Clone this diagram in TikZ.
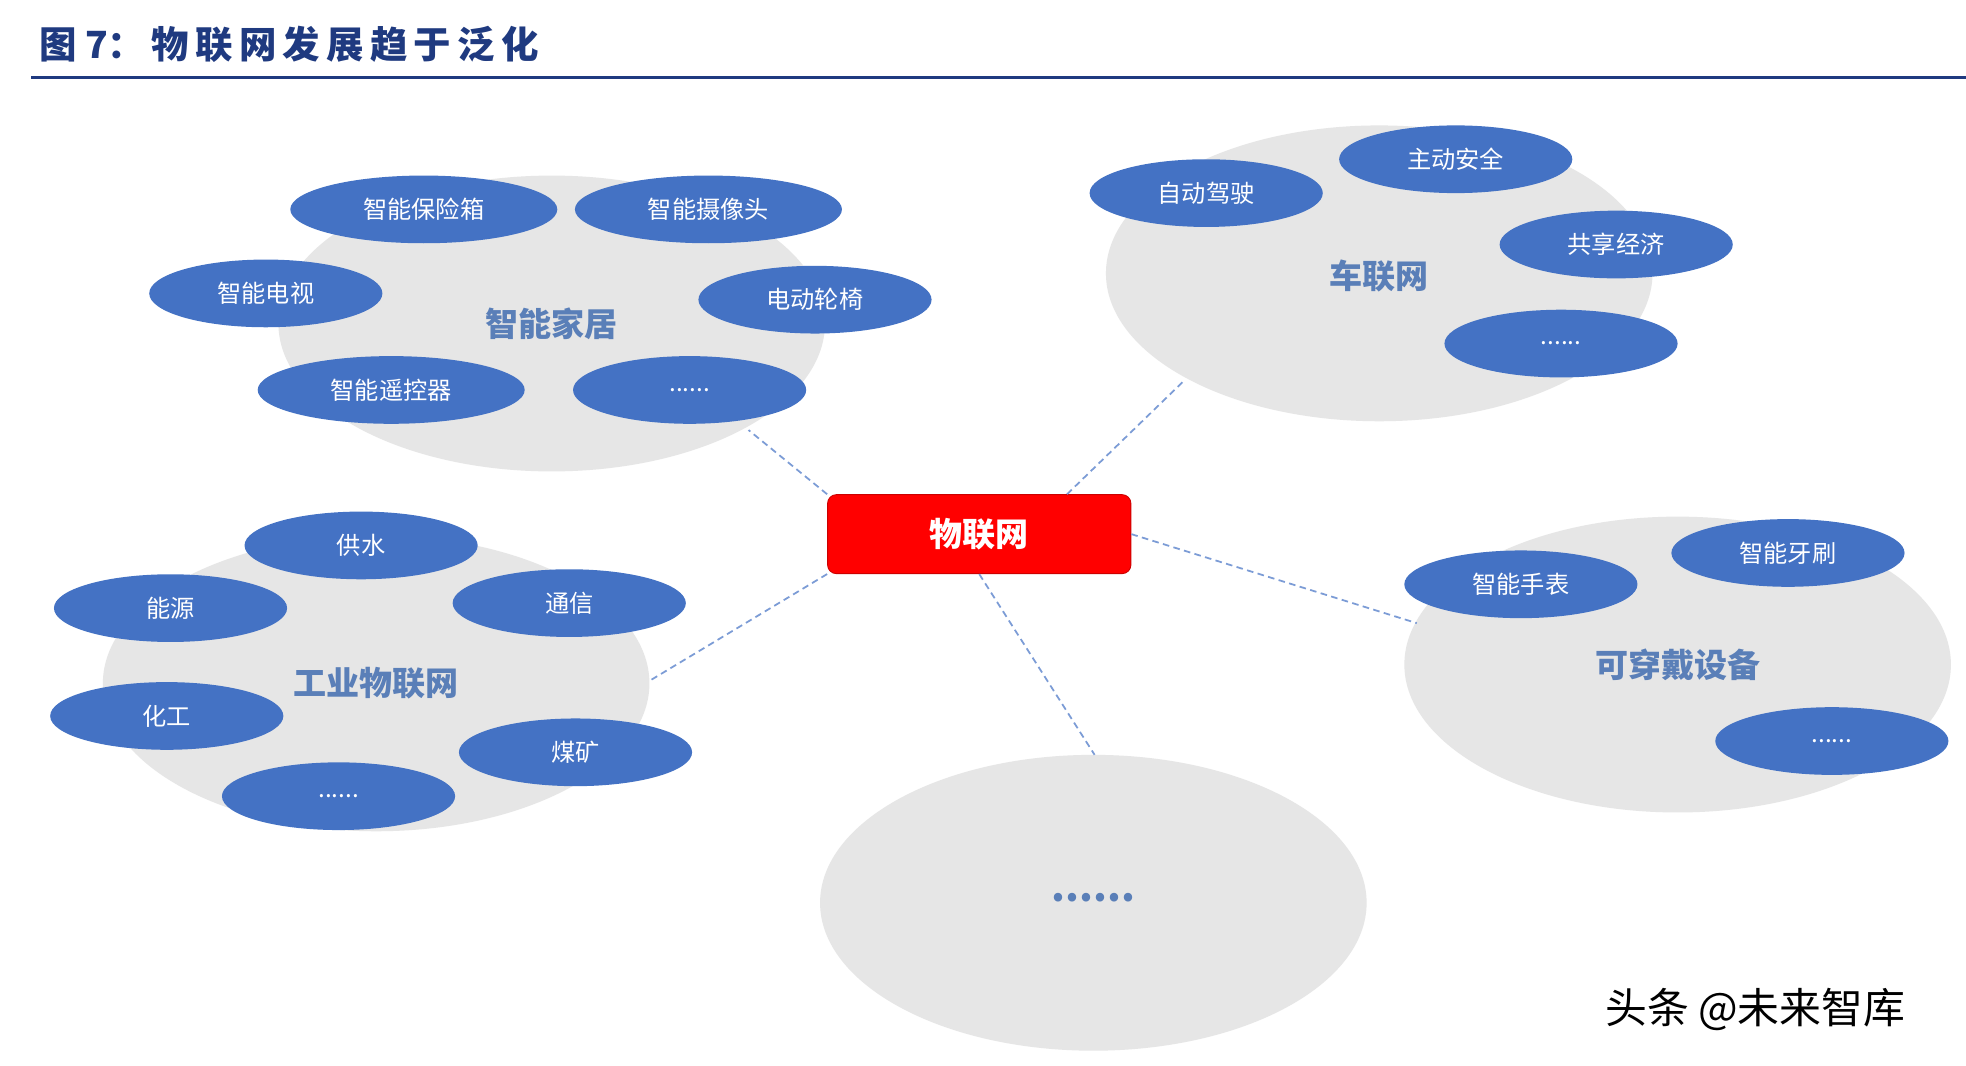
\documentclass[tikz,border=0pt]{standalone}
\usepackage{fontspec}
\setmainfont{Noto Sans CJK SC}
\usetikzlibrary{shapes.geometric}
\definecolor{ttl}{HTML}{1F3A80}
\definecolor{bl}{HTML}{4472C4}
\definecolor{lg}{HTML}{E6E6E6}
\definecolor{lbl}{HTML}{5A7FB8}
\begin{document}
\begin{tikzpicture}[x=0.02cm,y=-0.02cm,
  big/.style={ellipse,fill=lg,minimum width=8.72cm,minimum height=4.72cm,inner sep=0pt},
  sm/.style={ellipse,fill=bl,minimum width=3.72cm,minimum height=1.08cm,inner sep=0pt,text=white,font=\fontsize{11}{13}\selectfont},
  wide/.style={minimum width=4.26cm},
  bigl/.style={text=lbl,font=\fontsize{15}{17}\selectfont\bfseries},
  con/.style={densely dashed,draw=bl!70,line width=0.8pt}]
\useasboundingbox (0,0) rectangle (1568,850);
\fill[white] (0,0) rectangle (1568,850);
\node[anchor=west,text=ttl,font=\fontsize{17}{19}\selectfont\bfseries] (title) at (25,35) {图 7：\,物\,联\,网\,发\,展\,趋\,于\,泛\,化};
\draw[ttl,line width=1.2pt] (25,62) -- (1568,62);
% big ellipses
\node[big] (home) at (440,258) {};
\node[big] (car) at (1100,218) {};
\node[big] (ind) at (300,545) {};
\node[big] (wear) at (1338,530) {};
\node[big] (more) at (872,720) {};
\node[bigl] (homel) at (440,258) {智能家居};
\node[bigl] (carl) at (1100,220) {车联网};
\node[bigl] (indl) at (300,545) {工业物联网};
\node[bigl] (wearl) at (1338,530) {可穿戴设备};
\node[bigl,font=\fontsize{18}{20}\selectfont\bfseries] (morel) at (872,716) {......};
% small
\node[sm,wide] (a1) at (338,167) {智能保险箱};
\node[sm,wide] (a2) at (565,167) {智能摄像头};
\node[sm] (a3) at (212,234) {智能电视};
\node[sm] (a4) at (650,239) {电动轮椅};
\node[sm,wide] (a5) at (312,311) {智能遥控器};
\node[sm] (a6) at (550,311) {......};
\node[sm] (b1) at (962,154) {自动驾驶};
\node[sm] (b2) at (1161,127) {主动安全};
\node[sm] (b3) at (1289,195) {共享经济};
\node[sm] (b4) at (1245,274) {......};
\node[sm] (c1) at (288,435) {供水};
\node[sm] (c2) at (136,485) {能源};
\node[sm] (c3) at (454,481) {通信};
\node[sm] (c4) at (133,571) {化工};
\node[sm] (c5) at (459,600) {煤矿};
\node[sm] (c6) at (270,635) {......};
\node[sm] (d1) at (1213,466) {智能手表};
\node[sm] (d2) at (1426,441) {智能牙刷};
\node[sm] (d3) at (1461,591) {......};
% hub
\node[fill=red,draw=red!80!black,rounded corners=4pt,minimum width=4.84cm,minimum height=1.26cm,text=white,font=\fontsize{15}{17}\selectfont\bfseries] (hub) at (781,426) {物联网};
\coordinate (e1) at (597,343);
\coordinate (e2) at (945,303);
\coordinate (e3) at (518,543);
\coordinate (e4) at (1130,497);
\coordinate (e5) at (873,602);
\draw[con] (hub.north west) -- (e1);
\draw[con] ([xshift=1.4cm]hub.north) -- (e2);
\draw[con] (hub.south west) -- (e3);
\draw[con] (hub.east) -- (e4);
\draw[con] (hub.south) -- (e5);
\node[font=\fontsize{19}{21}\selectfont] (wm) at (1400,805) {头条 @未来智库};
\end{tikzpicture}
\end{document}
